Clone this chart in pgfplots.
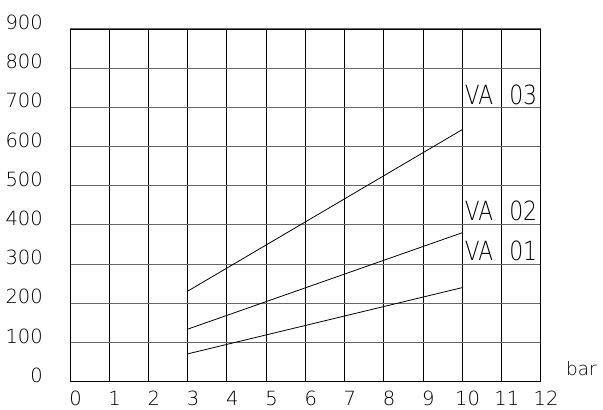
\documentclass[border=0pt]{standalone}
\usepackage{fontspec}
\setmainfont{DejaVu Sans ExtraLight}
\usepackage{pgfplots}
\pgfplotsset{compat=1.18}
\begin{document}
\begin{tikzpicture}
\useasboundingbox (-70bp,-28.3bp) rectangle (533bp,381.7bp);
\begin{axis}[
  at={(0,0)}, anchor=south west,
  scale only axis, width=470.5bp, height=352.7bp,
  xmin=0, xmax=12, ymin=0, ymax=900,
  xtick={0,1,...,12}, ytick={0,100,...,900},
  major tick length=0pt,
  grid=major,
  x grid style={black, line width=0.7bp},
  y grid style={black!60, line width=1.1bp},
  axis line style={black, line width=0.9bp},
  tick label style={font=\fontsize{19.6}{19.6}\selectfont},
  /pgf/number format/assume math mode=true,
  yticklabel style={anchor=east, inner sep=0pt, xshift=-27bp, yshift=6.5bp},
  xticklabel style={anchor=north, inner sep=0pt, xshift=5.5bp, yshift=-9.3bp},
  clip=false,
]
\addplot[black, line width=0.8bp] coordinates {(3,71) (10,240)};
\addplot[black, line width=0.8bp] coordinates {(3,134) (10,380)};
\addplot[black, line width=0.8bp] coordinates {(3,231) (10,643)};
\node[anchor=base, inner sep=0pt, font=\fontsize{26.5}{26.5}\selectfont] at (axis cs:10.43,708) {\scalebox{0.82}[1]{VA}};
\node[anchor=base, inner sep=0pt, font=\fontsize{26.5}{26.5}\selectfont] at (axis cs:11.56,708) {\scalebox{0.83}[1]{03}};
\node[anchor=base, inner sep=0pt, font=\fontsize{26.5}{26.5}\selectfont] at (axis cs:10.43,412.5) {\scalebox{0.82}[1]{VA}};
\node[anchor=base, inner sep=0pt, font=\fontsize{26.5}{26.5}\selectfont] at (axis cs:11.56,412.5) {\scalebox{0.83}[1]{02}};
\node[anchor=base, inner sep=0pt, font=\fontsize{26.5}{26.5}\selectfont] at (axis cs:10.43,308.7) {\scalebox{0.82}[1]{VA}};
\node[anchor=base, inner sep=0pt, font=\fontsize{26.5}{26.5}\selectfont] at (axis cs:11.56,308.7) {\scalebox{0.83}[1]{01}};
\node[anchor=base west, inner sep=0pt, font=\fontsize{18.5}{18.5}\selectfont] at (axis cs:12.65,16) {bar};
\end{axis}
\end{tikzpicture}
\end{document}
